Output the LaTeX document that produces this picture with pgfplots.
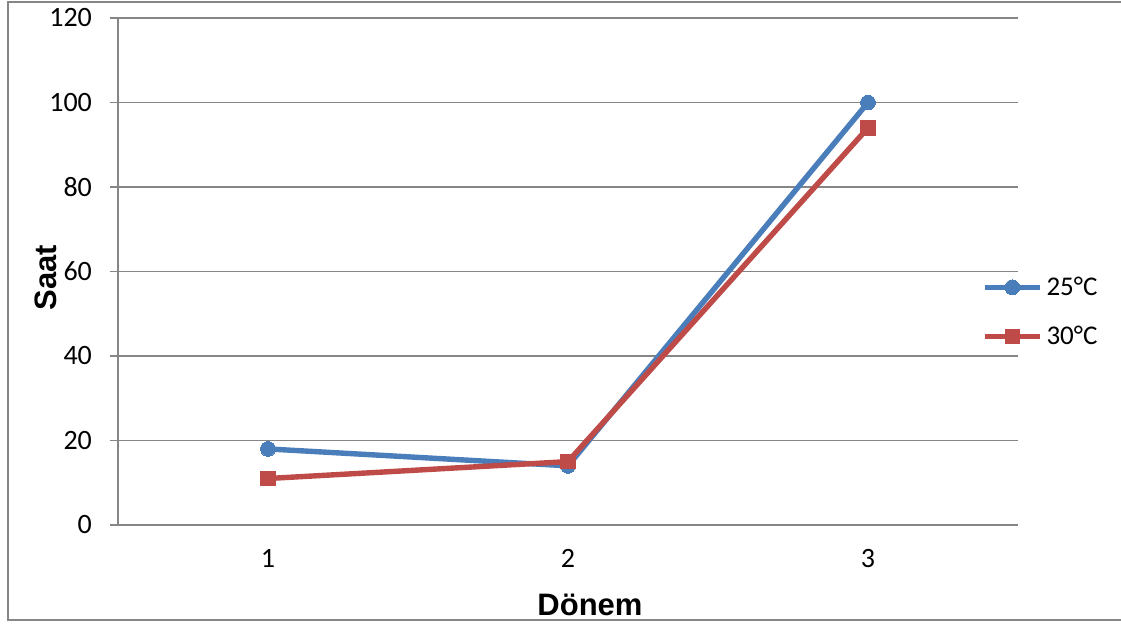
\documentclass[border=0pt]{standalone}
\usepackage{fontspec}
\setmainfont{Carlito}
\newfontfamily\arialfont{Liberation Sans}
\usepackage{pgfplots}
\pgfplotsset{compat=1.18}
\definecolor{serA}{HTML}{4A7EBB}
\definecolor{serB}{HTML}{BE4B48}
\definecolor{axgray}{HTML}{868686}
\begin{document}
\begin{tikzpicture}
\useasboundingbox (0,0) rectangle (560.5pt,312pt);
\draw[axgray, line width=0.75pt] (4pt,2pt) rectangle (580pt,311pt);
\begin{axis}[
  at={(59pt,49.5pt)}, anchor=south west,
  scale only axis, width=450pt, height=253.5pt,
  xmin=0.5, xmax=3.5, ymin=0, ymax=120,
  axis x line*=bottom, axis y line*=left,
  axis line style={axgray, line width=0.75pt},
  xtick={1,2,3}, xticklabels={1,2,3},
  x tick style={draw=none},
  extra x ticks={0.5,1.5,2.5,3.5}, extra x tick labels={},
  extra x tick style={grid=none, tick style={draw=axgray, line width=0.75pt}, major tick length=4pt},
  ytick={0,20,...,120},
  y tick style={draw=axgray, line width=0.75pt},
  major tick length=4pt, tick align=outside,
  ymajorgrids, major grid style={axgray, line width=0.7pt},
  /pgf/number format/assume math mode=true,
  tick label style={font=\fontsize{14pt}{16pt}\selectfont},
  xticklabel style={yshift=-4.5pt},
  yticklabel style={xshift=-5.5pt},
  xlabel={\arialfont\bfseries D\"onem},
  ylabel={\arialfont\bfseries Saat},
  label style={font=\fontsize{15.5pt}{18pt}\selectfont},
  xlabel style={xshift=11pt, yshift=1.5pt},
  ylabel style={yshift=-10.5pt, xshift=-3pt},
  legend style={draw=none, fill=none, at={(axis description cs:0.953,0.42)}, anchor=west,
    font=\fontsize{13.5pt}{15pt}\selectfont, row sep=10pt,
    legend cell align=left},
  legend image code/.code={\draw[mark repeat=2,mark phase=2,#1] plot coordinates {(0pt,0pt) (13.75pt,0pt) (27.5pt,0pt)};},
  every axis plot/.append style={line width=2.7pt},
]
\addplot[color=serA, mark=*, mark size=3.7pt, mark options={fill=serA, line width=0pt}] coordinates {(1,18) (2,14) (3,100)};
\addlegendentry{25°C}
\addplot[color=serB, mark=square*, mark size=3.6pt, mark options={fill=serB, line width=0pt}] coordinates {(1,11) (2,15) (3,94)};
\addlegendentry{30°C}
\end{axis}
\end{tikzpicture}
\end{document}
